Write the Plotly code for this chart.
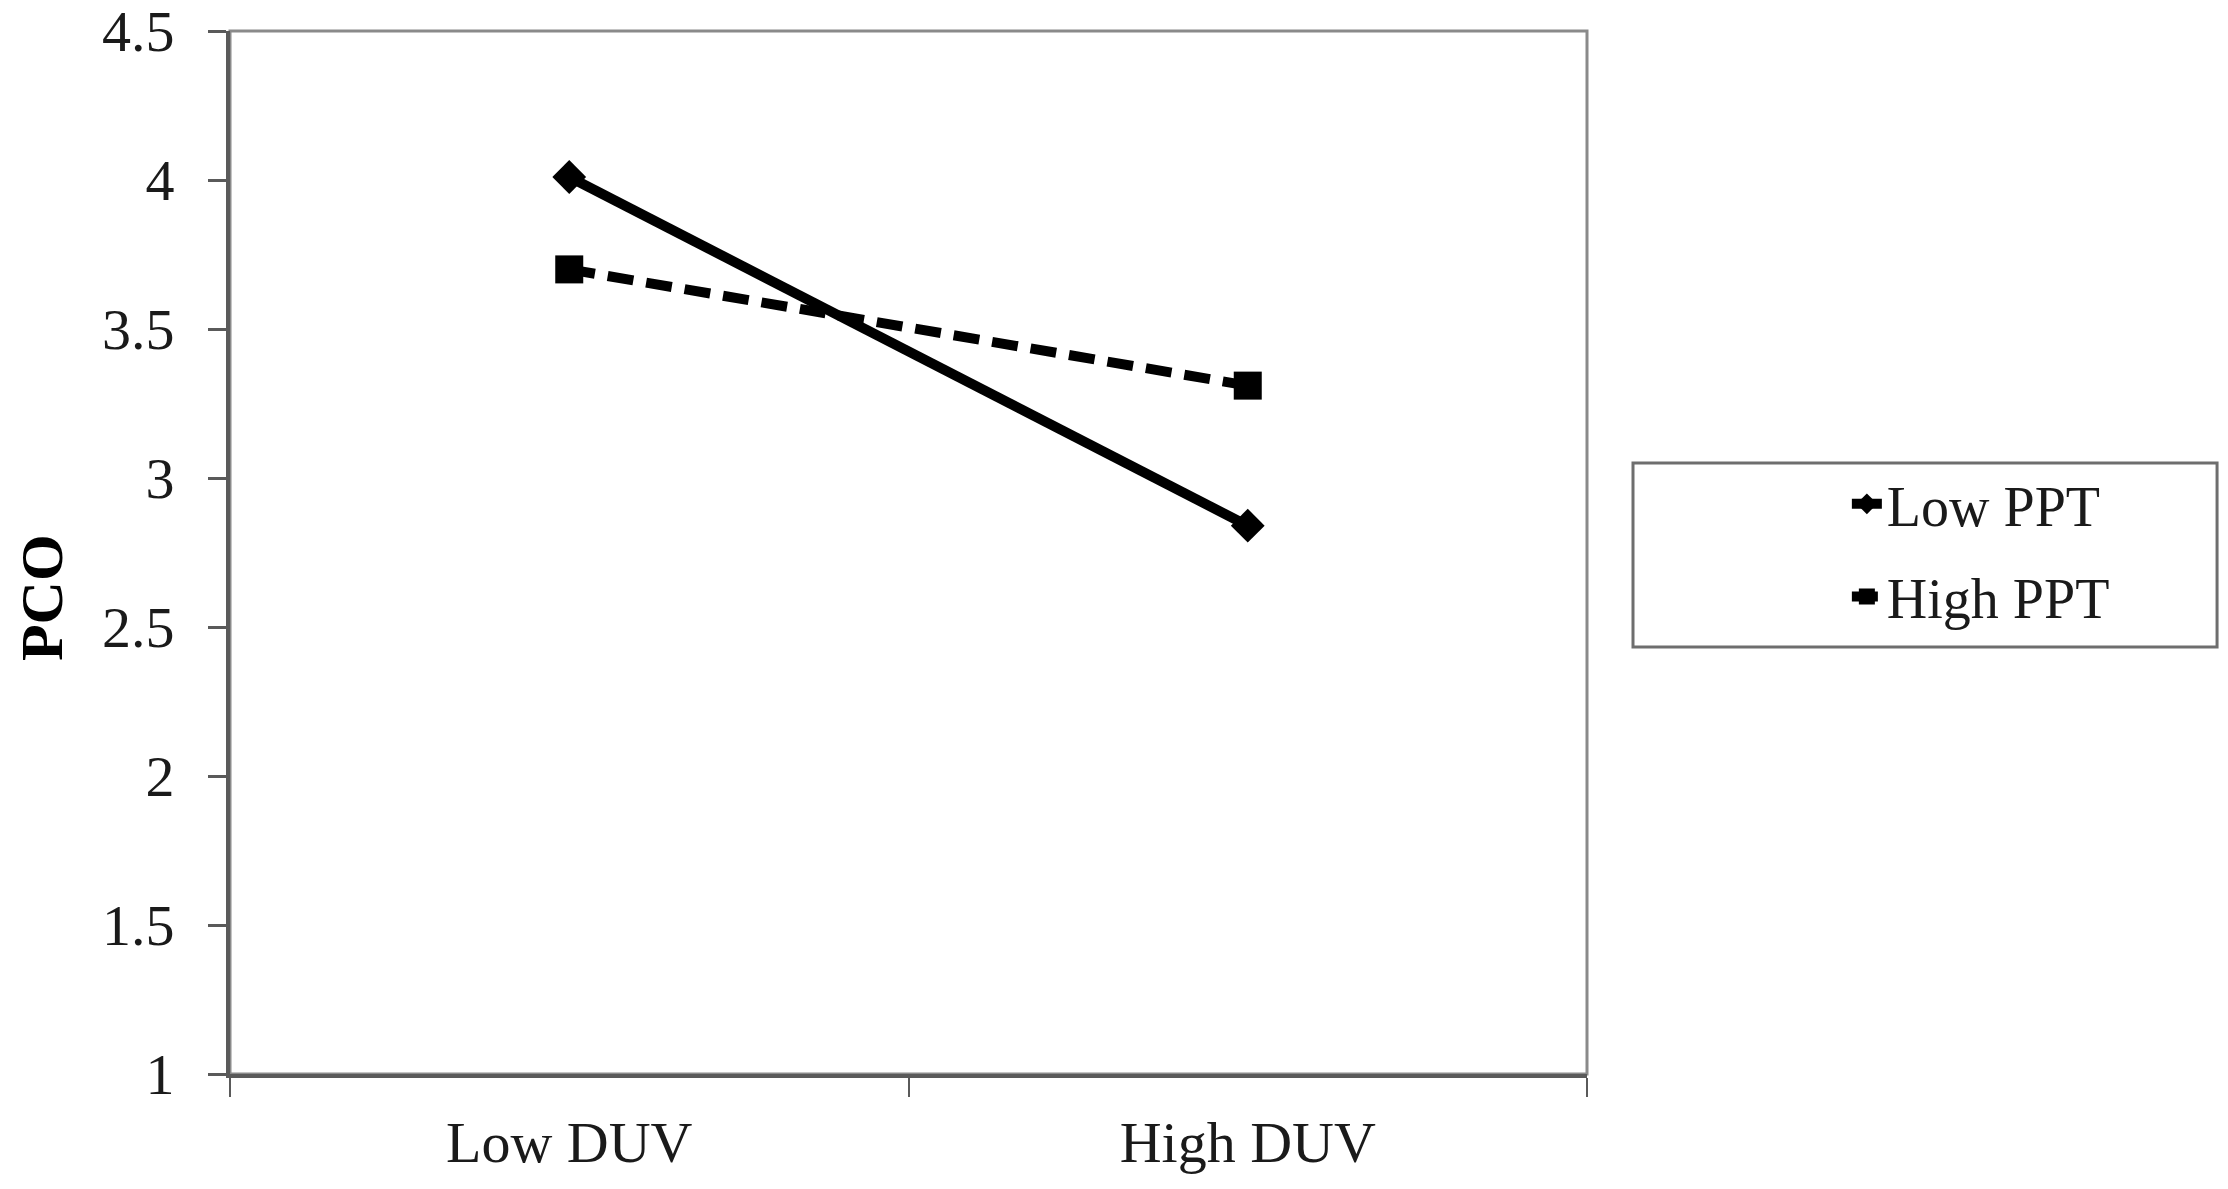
import plotly.graph_objs as go

# categories on x, one list per series
duv_levels = ['Low DUV', 'High DUV']
low_ppt = [4.01, 2.84]
high_ppt = [3.70, 3.31]
series_names = ['Low PPT', 'High PPT']

y_ticks = [1, 1.5, 2, 2.5, 3, 3.5, 4, 4.5]
y_tick_text = ['1', '1.5', '2', '2.5', '3', '3.5', '4', '4.5']

serif = 'Liberation Serif, Times New Roman, serif'
axis_grey = '#5a5a5a'

data = [go.Scatter(x=duv_levels, y=low_ppt,
                   name=series_names[0],
                   mode='lines+markers',
                   legendgroup='a',
                   line=dict(color='black', width=10),
                   marker=dict(symbol='diamond', size=26, color='black')),
        go.Scatter(x=duv_levels, y=high_ppt,
                   name=series_names[1],
                   mode='lines+markers',
                   legendgroup='b',
                   line=dict(color='black', width=10, dash='26px,13px'),
                   marker=dict(symbol='square', size=28, color='black'))]

layout = go.Layout(
    width=2228, height=1189, autosize=False,
    margin=dict(l=230, r=641, t=31, b=115, pad=0),
    paper_bgcolor='white', plot_bgcolor='white',
    font=dict(family=serif, size=58, color='#1a1a1a'),
    showlegend=True,
    legend=dict(x=1.1915, xanchor='left', y=0.502, yanchor='middle',
                bgcolor='rgba(0,0,0,0)', borderwidth=0,
                tracegroupgap=17,
                font=dict(family=serif, size=56, color='#1a1a1a')),
    xaxis=dict(type='category', range=[-0.5, 1.5], automargin=False,
               showgrid=False, zeroline=False,
               showline=True, linecolor=axis_grey, linewidth=4,
               ticks='outside', tickson='boundaries', ticklen=19,
               tickwidth=2, tickcolor=axis_grey,
               ticklabelstandoff=14,
               tickfont=dict(family=serif, size=58)),
    yaxis=dict(range=[1, 4.5], tickvals=y_ticks, ticktext=y_tick_text,
               automargin=False,
               showgrid=False, zeroline=False,
               showline=True, linecolor=axis_grey, linewidth=4,
               ticks='outside', ticklen=18, tickwidth=3, tickcolor=axis_grey,
               ticklabelstandoff=22, ticklabeloverflow='allow',
               tickfont=dict(family=serif, size=58)),
    shapes=[
        # thin frame round the plot area (top and right sides show)
        dict(type='rect', xref='paper', yref='paper', x0=0, x1=1, y0=0, y1=1,
             line=dict(color='#8a8a8a', width=3), layer='below'),
        # legend box
        dict(type='rect', xref='paper', yref='paper',
             x0=1.0339, x1=1.4643, y0=0.4094, y1=0.5858,
             line=dict(color='#6e6e6e', width=3)),
    ],
    annotations=[
        dict(text='<b>PCO</b>', textangle=-90, xref='paper', yref='paper',
             x=-0.138, y=0.457, xanchor='center', yanchor='middle',
             showarrow=False,
             font=dict(family=serif, size=60, color='black')),
    ],
)

fig = go.Figure(data=data, layout=layout)
# drop the default page margin so the figure sits at the window corner
fig.write_html('out.html', config={'displayModeBar': False},
               post_script="document.body.style.margin='0';")
